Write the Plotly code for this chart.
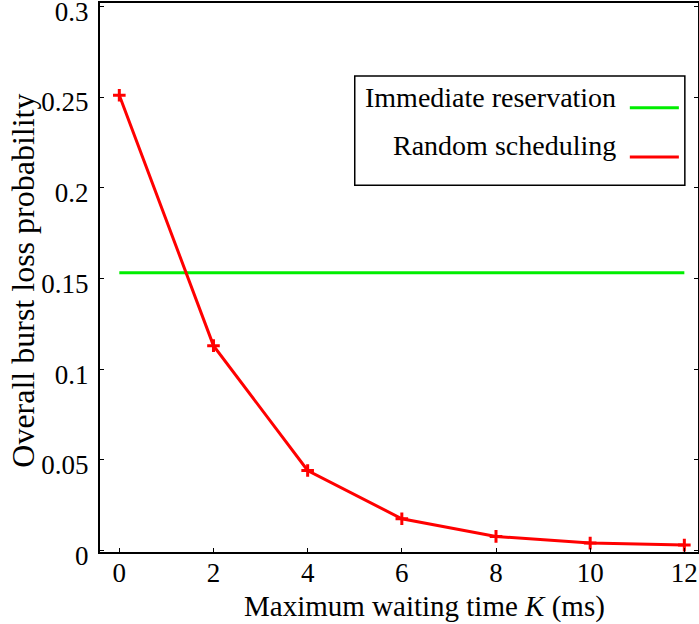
import plotly.graph_objects as go

K = [0, 2, 4, 6, 8, 10, 12]
random_sched = [0.251, 0.113, 0.0442, 0.0176, 0.0079, 0.0042, 0.0031]
immediate_x = [0, 12]
immediate_y = [0.1532, 0.1532]
x_ticks = [0, 2, 4, 6, 8, 10, 12]
y_ticks = [0, 0.05, 0.1, 0.15, 0.2, 0.25, 0.3]
y_tick_text = ["0", "0.05", "0.1", "0.15", "0.2", "0.25", "0.3"]
legend_names = ["Immediate reservation", "Random scheduling"]
colors = ["#00ee00", "#ff0000"]
x_title = "Maximum waiting time <i>K</i> (ms)"
y_title = "Overall burst loss probability"

FONT = "Liberation Serif, Times New Roman, serif"

fig = go.Figure()
fig.add_trace(go.Scatter(x=immediate_x, y=immediate_y, mode="lines",
                         line=dict(color=colors[0], width=3), showlegend=False))
fig.add_trace(go.Scatter(x=K, y=random_sched, mode="lines+markers",
                         line=dict(color=colors[1], width=3),
                         marker=dict(symbol="cross-thin", size=9,
                                     line=dict(color=colors[1], width=3)),
                         showlegend=False))

# Legend drawn manually (labels on left, line samples on right)
lx0, lx1, ly0, ly1 = 0.426, 0.978, 0.668, 0.867
fig.add_shape(type="rect", xref="paper", yref="paper", x0=lx0, x1=lx1, y0=ly0, y1=ly1,
              line=dict(color="black", width=1.5), fillcolor="white", layer="above")
text_y = [0.828, 0.741]
line_y = [0.809, 0.7195]
for name, c, ty, ly in zip(legend_names, colors, text_y, line_y):
    fig.add_annotation(xref="paper", yref="paper", x=0.866, y=ty, text=name,
                       showarrow=False, xanchor="right", yanchor="middle",
                       font=dict(family=FONT, size=28, color="black"))
    fig.add_shape(type="line", xref="paper", yref="paper", x0=0.886, x1=0.968,
                  y0=ly, y1=ly, line=dict(color=c, width=3), layer="above")

# Axis titles
fig.add_annotation(xref="paper", yref="paper", x=0.543, y=-0.1, text=x_title,
                   showarrow=False, xanchor="center", yanchor="middle",
                   font=dict(family=FONT, size=29, color="black"))
fig.add_annotation(xref="paper", yref="paper", x=-0.128, y=0.495, text=y_title,
                   showarrow=False, xanchor="center", yanchor="middle", textangle=-90,
                   font=dict(family=FONT, size=32, color="black"))

fig.update_layout(
    width=699, height=624,
    margin=dict(l=100, r=1, t=3, b=72, autoexpand=False),
    plot_bgcolor="white", paper_bgcolor="white",
    font=dict(family=FONT, size=27, color="black"),
    xaxis=dict(range=[-0.41, 12.29], tickvals=x_ticks, ticks="inside", ticklen=4,
               tickwidth=1, tickcolor="black", showline=True, linecolor="black",
               linewidth=2, mirror=True, showgrid=False, zeroline=False,
               tickfont=dict(size=27), ticklabelstandoff=-4, automargin=False),
    yaxis=dict(range=[-0.0007, 0.3018], tickvals=y_ticks, ticktext=y_tick_text,
               ticks="inside", ticklen=4, tickwidth=1, tickcolor="black",
               showline=True, linecolor="black", linewidth=2, mirror="ticks",
               showgrid=False, zeroline=False, tickfont=dict(size=27),
               ticklabelstandoff=4, ticklabelshift=5, ticklabeloverflow="allow",
               automargin=False),
)

fig.write_html("out.html")
